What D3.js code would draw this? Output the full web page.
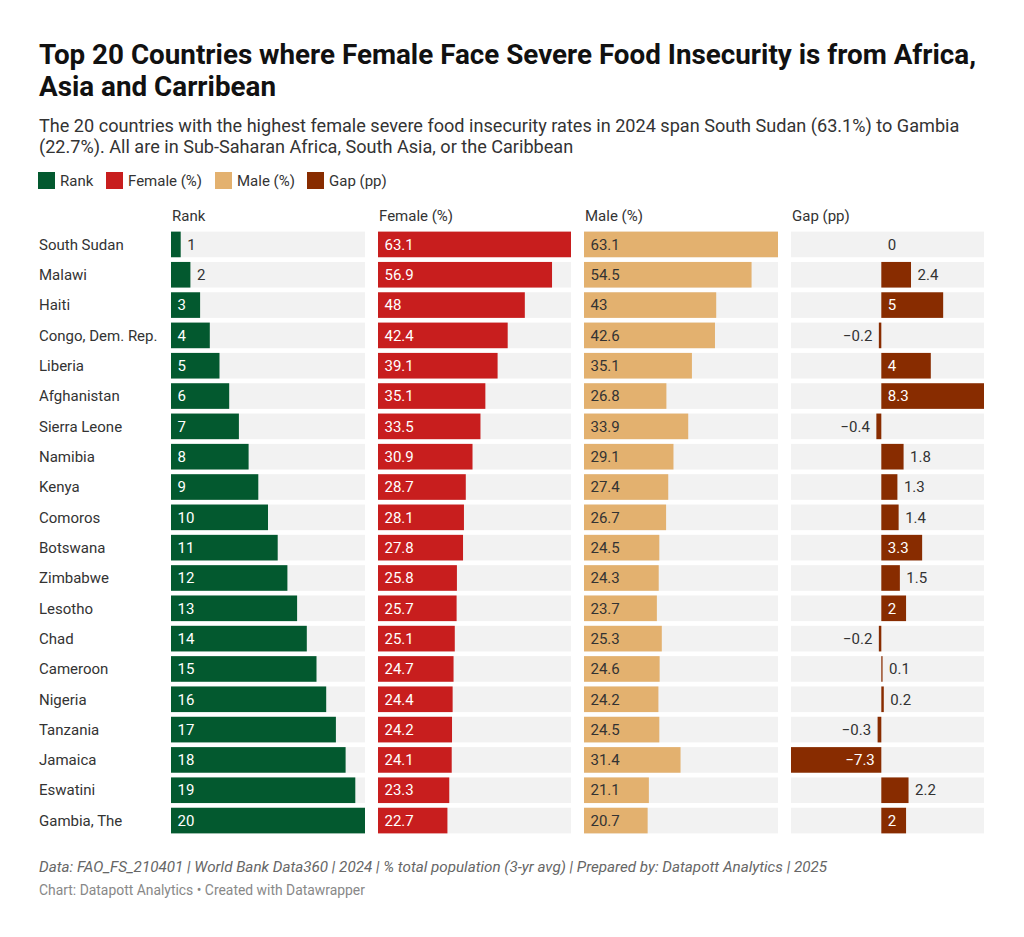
<!DOCTYPE html>
<html><head><meta charset="utf-8">
<script src="https://cdn.jsdelivr.net/npm/d3@7"></script>
<style>
body{margin:0;background:#fff;font-family:Roboto,"Noto Sans",sans-serif;}
svg{display:block;}
</style></head>
<body>
<svg id="c" width="1024" height="937"></svg>
<script>
const countries = ["South Sudan","Malawi","Haiti","Congo, Dem. Rep.","Liberia","Afghanistan","Sierra Leone","Namibia","Kenya","Comoros","Botswana","Zimbabwe","Lesotho","Chad","Cameroon","Nigeria","Tanzania","Jamaica","Eswatini","Gambia, The"];
const rank = [1,2,3,4,5,6,7,8,9,10,11,12,13,14,15,16,17,18,19,20];
const female = [63.1,56.9,48,42.4,39.1,35.1,33.5,30.9,28.7,28.1,27.8,25.8,25.7,25.1,24.7,24.4,24.2,24.1,23.3,22.7];
const male = [63.1,54.5,43,42.6,35.1,26.8,33.9,29.1,27.4,26.7,24.5,24.3,23.7,25.3,24.6,24.2,24.5,31.4,21.1,20.7];
const gap = [0,2.4,5,-0.2,4,8.3,-0.4,1.8,1.3,1.4,3.3,1.5,2,-0.2,0.1,0.2,-0.3,-7.3,2.2,2];
const seriesNames = ["Rank","Female (%)","Male (%)","Gap (pp)"];
const seriesColors = ["#03592f","#c81e1e","#e3b16f","#882c00"];

const svg = d3.select("#c");
const txt = "#333333";

// Title
svg.append("text").attr("x",39).attr("y",64).attr("font-size",27.8).attr("font-weight",700).attr("fill","#111")
  .text("Top 20 Countries where Female Face Severe Food Insecurity is from Africa,");
svg.append("text").attr("x",39).attr("y",96).attr("font-size",27.8).attr("font-weight",700).attr("fill","#111")
  .text("Asia and Carribean");
svg.append("text").attr("x",39).attr("y",132).attr("font-size",18.1).attr("fill","#333")
  .text("The 20 countries with the highest female severe food insecurity rates in 2024 span South Sudan (63.1%) to Gambia");
svg.append("text").attr("x",39).attr("y",153).attr("font-size",18.1).attr("fill","#333")
  .text("(22.7%). All are in Sub-Saharan Africa, South Asia, or the Caribbean");

// Legend
const legX = [38,106,215,307];
seriesNames.forEach((n,i)=>{
  svg.append("rect").attr("x",legX[i]).attr("y",172).attr("width",17).attr("height",17).attr("fill",seriesColors[i]);
  svg.append("text").attr("x",legX[i]+22).attr("y",186).attr("font-size",15).attr("fill",txt).text(n);
});

// Layout
const y = d3.scaleBand().domain(countries).range([229.5,835.5]).paddingInner(0.155).paddingOuter(0.07);
const colX = [[171,365],[378,571],[584,778],[791,984]];
const scales = [
  d3.scaleLinear().domain([0,d3.max(rank)]).range(colX[0]),
  d3.scaleLinear().domain([0,d3.max(female)]).range(colX[1]),
  d3.scaleLinear().domain([0,d3.max(male)]).range(colX[2]),
  d3.scaleLinear().domain([d3.min(gap),d3.max(gap)]).range(colX[3])
];
const data = [rank,female,male,gap];
const labelColorsInside = ["#fff","#fff","#333","#fff"];

// headers
seriesNames.forEach((n,i)=>{
  svg.append("text").attr("x",colX[i][0]+1).attr("y",221).attr("font-size",15).attr("fill",txt).text(n);
});

// country labels
svg.append("g").selectAll("text").data(countries).join("text")
  .attr("x",39).attr("y",d=>y(d)+y.bandwidth()/2).attr("dy","0.35em")
  .attr("font-size",15).attr("fill",txt).text(d=>d);

const pad = 6.5;
data.forEach((vals,ci)=>{
  const s = scales[ci];
  const g = svg.append("g");
  const z = s(Math.max(0,s.domain()[0]));
  g.selectAll("rect.bg").data(countries).join("rect").attr("class","bg")
    .attr("x",colX[ci][0]).attr("width",colX[ci][1]-colX[ci][0])
    .attr("y",d=>y(d)).attr("height",y.bandwidth()).attr("fill","#f2f2f2");
  g.selectAll("rect.bar").data(vals).join("rect").attr("class","bar")
    .attr("x",d=>Math.min(s(d),z)).attr("width",d=>Math.abs(s(d)-z))
    .attr("y",(d,i)=>y(countries[i])).attr("height",y.bandwidth())
    .attr("fill",seriesColors[ci]);
  const labels = g.selectAll("text").data(vals).join("text")
    .attr("y",(d,i)=>y(countries[i])+y.bandwidth()/2).attr("dy","0.35em")
    .attr("font-size",15).text(d=>d<0?"\u2212"+Math.abs(d):String(d));
  labels.each(function(d){
    const el = d3.select(this);
    const w = this.getComputedTextLength();
    const bw = Math.abs(s(d)-z);
    const inside = w + 2*pad <= bw;
    if(d>=0){
      el.attr("text-anchor","start").attr("x", inside ? z+pad : s(d)+pad);
    } else {
      el.attr("text-anchor","end").attr("x", inside ? z-pad : s(d)-pad);
    }
    el.attr("fill", inside ? labelColorsInside[ci] : txt);
  });
});

// footer
svg.append("text").attr("x",39).attr("y",872).attr("font-size",15.2).attr("font-style","italic").attr("fill","#666")
  .text("Data: FAO_FS_210401 | World Bank Data360 | 2024 | % total population (3-yr avg) | Prepared by: Datapott Analytics | 2025");
svg.append("text").attr("x",39).attr("y",895).attr("font-size",13.9).attr("fill","#888")
  .text("Chart: Datapott Analytics \u2022 Created with Datawrapper");
</script>
</body></html>
